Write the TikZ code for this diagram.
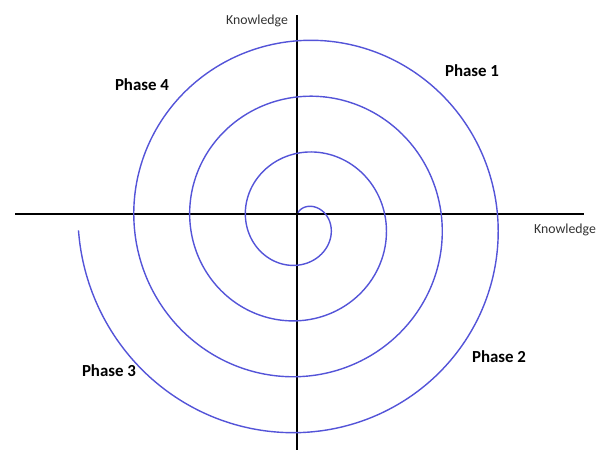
\documentclass[tikz,border=0pt]{standalone}
\usepackage{fontspec}
\setmainfont{Carlito}
\usetikzlibrary{positioning}
\definecolor{spiralblue}{RGB}{84,84,216}
\tikzset{
  axisline/.style={line width=1.1pt, black},
  phaselabel/.style={font=\bfseries\fontsize{12}{14}\selectfont},
  axislabel/.style={font=\fontsize{9.8}{11}\selectfont, text=black!80}
}
\begin{document}
\begin{tikzpicture}[x=0.025cm,y=0.025cm]
    \useasboundingbox (0,0) rectangle (603,450);
    % axes
    \coordinate (xl) at (15,236);
    \coordinate (xr) at (584,236);
    \coordinate (yt) at (297,435);
    \coordinate (yb) at (297,0);
    \draw[axisline] (xl) -- (xr);
    \draw[axisline] (yt) -- (yb);
    \node[axislabel] (ktop) at (257,429) {Knowledge};
    \node[axislabel] (kright) at (565,220) {Knowledge};
    % spiral, clockwise from the centre
    \draw[spiralblue, line width=1pt] plot[domain=-382:988, samples=500, smooth, variable=\t]
      ({302+(70+0.15556*\t)*sin(\t)}, {227.5+(70+0.15556*\t)*cos(\t)});
    \foreach \name/\x/\y/\txt in {ph1/472/379/Phase 1, ph2/499/93/Phase 2,
                                  ph3/109/79/Phase 3, ph4/142/365/Phase 4} {
      \node[phaselabel] (\name) at (\x,\y) {\txt};
    }
\end{tikzpicture}
\end{document}
